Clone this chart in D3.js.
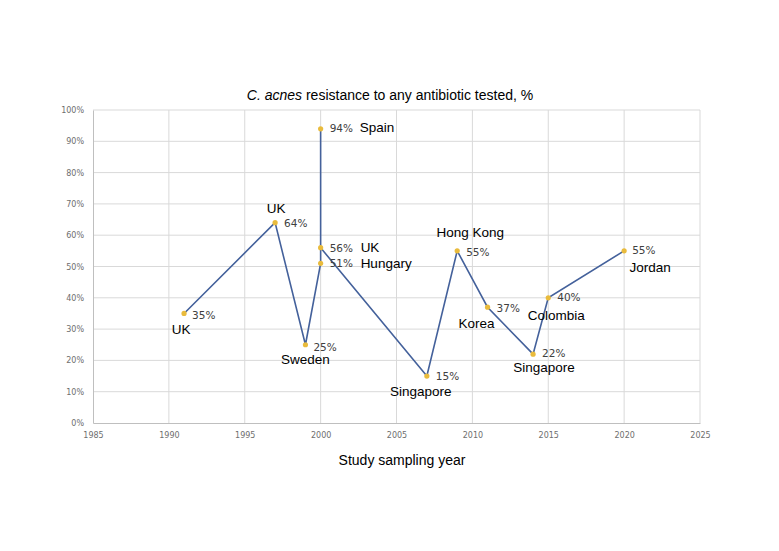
<!DOCTYPE html>
<html><head><meta charset="utf-8">
<script src="https://cdn.jsdelivr.net/npm/d3@7"></script>
<style>body{margin:0;background:#fff}</style>
</head><body>
<svg id="c" width="779" height="551"></svg>
<script>
const years = [1991, 1997, 1999, 2000, 2000, 2000, 2007, 2009, 2011, 2014, 2015, 2020];
const values = [35, 64, 25, 51, 94, 56, 15, 55, 37, 22, 40, 55];
const countries = ["UK", "UK", "Sweden", "Hungary", "Spain", "UK", "Singapore", "Hong Kong", "Korea", "Singapore", "Colombia", "Jordan"];
const xTicks = [1985, 1990, 1995, 2000, 2005, 2010, 2015, 2020, 2025];
const yTicks = [0, 10, 20, 30, 40, 50, 60, 70, 80, 90, 100];
// label layout: [pct dx, pct dy, country dx, country dy, country anchor]
const layout = [
  [8, 3, -3, 17, "middle"],
  [9, 1, 1, -13, "middle"],
  [8, 3, 0, 16, "middle"],
  [9, 1, 40, 1, "start"],
  [9, 0, 39, 0, "start"],
  [9, 1, 40, 1, "start"],
  [9, 1, -6, 16, "middle"],
  [9, 2, 13, -17, "middle"],
  [9, 2, -11, 17, "middle"],
  [9, 0, 11, 14, "middle"],
  [9, 0, 8, 19, "middle"],
  [8, 0, 26, 18, "middle"]
];

const svg = d3.select("#c");
const x = d3.scaleLinear().domain([1985, 2025]).range([93, 700]);
const y = d3.scaleLinear().domain([0, 100]).range([423, 110]);

// grid
svg.append("g").selectAll("line.h").data(yTicks.filter(d => d > 0)).join("line")
  .attr("x1", x(1985)).attr("x2", x(2025)).attr("y1", d => y(d)).attr("y2", d => y(d))
  .attr("stroke", "#d9d9d9").attr("stroke-width", 1);
svg.append("g").selectAll("line.v").data(xTicks.filter(d => d > 1985)).join("line")
  .attr("x1", d => x(d)).attr("x2", d => x(d)).attr("y1", y(0)).attr("y2", y(100))
  .attr("stroke", "#d9d9d9").attr("stroke-width", 1);

// axes
const xa = svg.append("g").attr("transform", `translate(0,${y(0)})`)
  .call(d3.axisBottom(x).tickValues(xTicks).tickFormat(d3.format("d")).tickSize(0).tickPadding(9));
const ya = svg.append("g").attr("transform", `translate(${x(1985)},0)`)
  .call(d3.axisLeft(y).tickValues(yTicks).tickFormat(d => d + "%").tickSize(0).tickPadding(9));
[xa, ya].forEach(a => {
  a.select(".domain").attr("stroke", "#bfbfbf");
  a.selectAll("text").attr("font-family", "DejaVu Sans").attr("font-size", 8).attr("fill", "#6e6e6e");
});

// line
const pts = years.map((yr, i) => ({ yr, v: values[i], c: countries[i], l: layout[i] }));
svg.append("path").datum(pts)
  .attr("d", d3.line().x(d => x(d.yr)).y(d => y(d.v)))
  .attr("fill", "none").attr("stroke", "#44619b").attr("stroke-width", 1.6);

svg.append("g").selectAll("circle").data(pts).join("circle")
  .attr("cx", d => x(d.yr)).attr("cy", d => y(d.v)).attr("r", 2.6).attr("fill", "#e9bb3c");

// labels
svg.append("g").selectAll("text").data(pts).join("text")
  .attr("x", d => x(d.yr) + d.l[0]).attr("y", d => y(d.v) + d.l[1])
  .attr("dominant-baseline", "middle")
  .attr("font-family", "DejaVu Sans").attr("font-size", 10.5).attr("fill", "#404040")
  .text(d => d.v + "%");
svg.append("g").selectAll("text").data(pts).join("text")
  .attr("x", d => x(d.yr) + d.l[2]).attr("y", d => y(d.v) + d.l[3])
  .attr("dominant-baseline", "middle").attr("text-anchor", d => d.l[4])
  .attr("font-family", "Liberation Sans").attr("font-size", 13.5).attr("fill", "#000")
  .text(d => d.c);

// titles
const t = svg.append("text").attr("x", 390).attr("y", 100).attr("text-anchor", "middle")
  .attr("font-family", "Liberation Sans").attr("font-size", 14).attr("fill", "#000");
t.append("tspan").attr("font-style", "italic").text("C. acnes");
t.append("tspan").text(" resistance to any antibiotic tested, %");
svg.append("text").attr("x", 402).attr("y", 465).attr("text-anchor", "middle")
  .attr("font-family", "Liberation Sans").attr("font-size", 14).attr("fill", "#000")
  .text("Study sampling year");
</script>
</body></html>
